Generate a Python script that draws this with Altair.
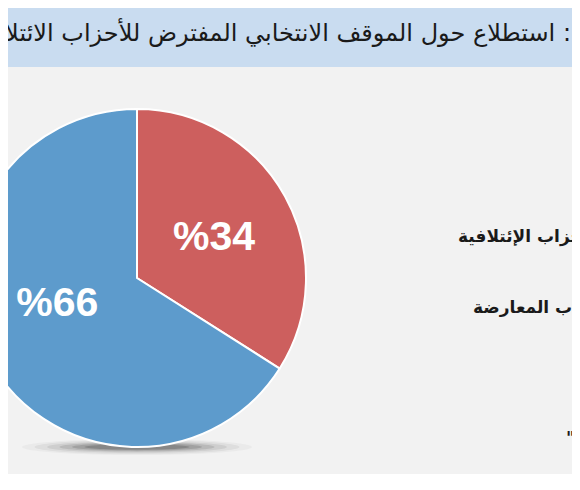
import altair as alt
import pandas as pd
import math

# ---- data ----
categories = ["الأحزاب الإئتلافية", "الأحزاب المعارضة"]
values = [34, 66]
order = [1, 2]
pct_labels = ["%34", "%66"]
slice_colors = ["#cd5f5e", "#5d9bcc"]
title_words = ["استطلاع", "حول", "الموقف", "الانتخابي", "المفترض", "للأحزاب", "الائتلافية"]
legend_labels = ["الأحزاب الإئتلافية", "الأحزاب المعارضة"]
note_text = "\"لا رأي\""

df = pd.DataFrame({"category": categories, "value": values, "order": order, "label": pct_labels})

W, H = 564, 466
CX, CY, R = 129, 270, 169

# right-to-left title: colon at the right end, text running off the left edge
title = " ".join(title_words) + " :"

bg = alt.Chart(pd.DataFrame({"a": [0]})).mark_rect(color="#c9dcf0").encode(
    x=alt.value(0), x2=alt.value(W), y=alt.value(0), y2=alt.value(59)
)
title_mark = alt.Chart(pd.DataFrame({"t": [title]})).mark_text(
    align="right", baseline="alphabetic", font="DejaVu Sans", fontSize=24, color="#1a1a1a"
).encode(x=alt.value(W - 1), y=alt.value(33), text="t:N")

# soft shadow under the pie
shadow_layers = []
for w, hh, op in [(230, 0.07, 0.03), (205, 0.068, 0.05), (180, 0.064, 0.07),
                  (155, 0.06, 0.10), (130, 0.056, 0.13), (105, 0.052, 0.16)]:
    shadow_layers.append(
        alt.Chart(pd.DataFrame({"a": [0]})).mark_point(
            shape=f"M-1,0A1,{hh},0,1,1,1,0A1,{hh},0,1,1,-1,0Z",
            filled=True, color="#000000", opacity=op, strokeWidth=0,
        ).encode(x=alt.value(CX), y=alt.value(CY + R), size=alt.value(w * w))
    )

pie = alt.Chart(df).mark_arc(radius=R, stroke="white", strokeWidth=2).encode(
    theta=alt.Theta("value:Q", stack=True),
    order=alt.Order("order:Q"),
    color=alt.Color("category:N", scale=alt.Scale(domain=categories, range=slice_colors), legend=None),
    x=alt.value(CX), y=alt.value(CY),
)

def pct_text(idx, radius, dx, dy):
    return alt.Chart(df).transform_window(
        cum="sum(value)", sort=[alt.SortField("order")]
    ).transform_calculate(
        mid="datum.cum - datum.value / 2"
    ).transform_filter(
        alt.datum.order == order[idx]
    ).mark_text(
        radius=radius, dx=dx, dy=dy, font="Liberation Sans", fontWeight="bold",
        fontSize=41, color="white", baseline="middle", align="center",
    ).encode(
        theta=alt.Theta("mid:Q", stack=None, scale=alt.Scale(domain=[0, 100], range=[0, 2 * math.pi])),
        x=alt.value(CX), y=alt.value(CY), text="label:N",
    )

t1 = pct_text(0, 88, 0, 2)
t2 = pct_text(1, 84, -6, -14)

def side_text(txt, x, y):
    return alt.Chart(pd.DataFrame({"t": [txt]})).mark_text(
        align="left", baseline="middle", font="DejaVu Sans", fontWeight="bold", fontSize=17, color="#1a1a1a"
    ).encode(x=alt.value(x), y=alt.value(y), text="t:N")

leg1 = side_text(legend_labels[0], 450, 229)
leg2 = side_text(legend_labels[1], 465, 300)
note = side_text(note_text, 558, 431)

chart = alt.layer(
    bg, title_mark, *shadow_layers, pie, t1, t2, leg1, leg2, note
).resolve_scale(theta="independent").properties(
    width=W, height=H, background="#f2f2f2", padding=0,
    autosize=alt.AutoSizeParams(type="none"),
).configure_view(stroke=None)

chart.save("out.html", embed_options={"renderer": "svg", "actions": False})
